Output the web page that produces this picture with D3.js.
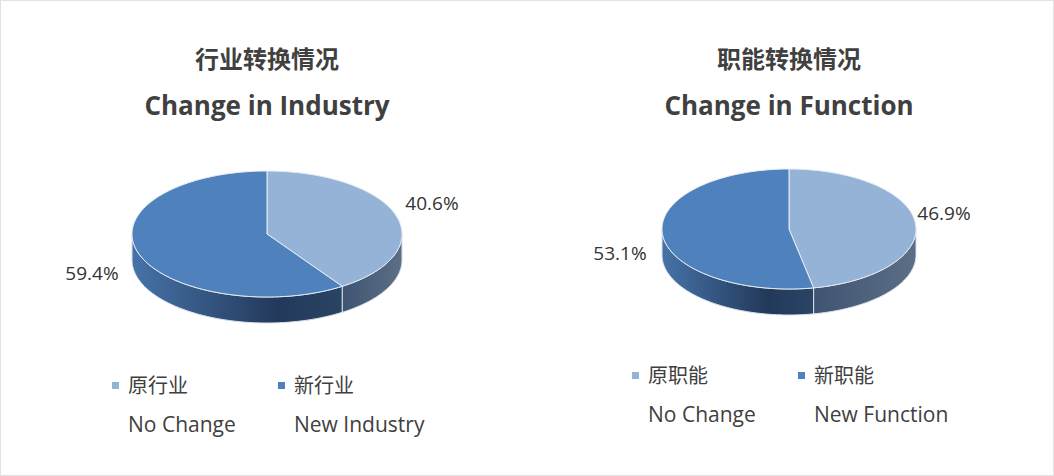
<!DOCTYPE html>
<html><head><meta charset="utf-8">
<script src="https://cdn.jsdelivr.net/npm/d3@7"></script>
<style>body{margin:0;background:#fff}text{font-family:"Open Sans","Noto Sans CJK SC",sans-serif}</style>
</head><body><div class="chart"></div>
<script>
// data
const titlesCn = ['行业转换情况', '职能转换情况']
const titlesEn = ['Change in Industry', 'Change in Function']
const legendCn = [['原行业', '新行业'], ['原职能', '新职能']]
const legendEn = [['No Change', 'New Industry'], ['No Change', 'New Function']]
const values = [[40.6, 59.4], [46.9, 53.1]]

const colors = ['#95b3d7', '#4f81bd']
const width = 1054, height = 476

const svg = d3.select('.chart').append('svg')
  .attr('width', width).attr('height', height)

svg.append('rect').attr('x', 0.5).attr('y', 0.5)
  .attr('width', width - 1).attr('height', height - 1)
  .style('fill', '#fff').style('stroke', '#e2e2e2')

const defs = svg.append('defs')
const g1 = defs.append('linearGradient').attr('id', 'sideDark')
g1.append('stop').attr('offset', '0%').attr('stop-color', '#4673a8')
g1.append('stop').attr('offset', '70%').attr('stop-color', '#22395a')
g1.append('stop').attr('offset', '100%').attr('stop-color', '#2a4466')
const g2 = defs.append('linearGradient').attr('id', 'sideLight')
g2.append('stop').attr('offset', '0%').attr('stop-color', '#3e5472')
g2.append('stop').attr('offset', '100%').attr('stop-color', '#5d6f86')
const sideFill = ['url(#sideLight)', 'url(#sideDark)']

const charts = [
  {cx: 267, cy: 234, rx: 135, ry: 63, depth: 26, legendY: 386, legendX: [116, 282],
   labels: [[432, 210], [92, 280]]},
  {cx: 789, cy: 229, rx: 127, ry: 60, depth: 26, legendY: 376, legendX: [636, 802],
   labels: [[944, 220], [620, 260]]}
]

const pie = d3.pie().sort(null)

charts.forEach((c, i) => {
  const g = svg.append('g')
  const pt = (a, dy = 0) => [c.cx + c.rx * Math.sin(a), c.cy - c.ry * Math.cos(a) + dy]
  const arcs = pie(values[i])

  // titles
  g.append('text').attr('x', c.cx).attr('y', 68).attr('text-anchor', 'middle')
    .style('font-size', '24px').style('font-weight', 'bold').style('fill', '#404040')
    .text(titlesCn[i])
  g.append('text').attr('x', c.cx).attr('y', 115).attr('text-anchor', 'middle')
    .style('font-size', '26px').style('font-weight', 'bold').style('fill', '#404040')
    .text(titlesEn[i])

  // side walls (front half only)
  arcs.forEach((d, j) => {
    const a0 = Math.max(d.startAngle, Math.PI / 2)
    const a1 = Math.min(d.endAngle, Math.PI * 1.5)
    if (a1 <= a0) return
    const steps = 60
    const top = d3.range(steps + 1).map(k => pt(a0 + (a1 - a0) * k / steps))
    const bottom = top.map(p => [p[0], p[1] + c.depth]).reverse()
    g.append('path').attr('d', d3.line()(top.concat(bottom)) + 'Z')
      .style('fill', sideFill[j]).style('stroke', '#d9e1ea').style('stroke-width', 1)
  })

  // top faces
  arcs.forEach((d, j) => {
    const steps = 120
    const pts = d3.range(steps + 1).map(k => pt(d.startAngle + (d.endAngle - d.startAngle) * k / steps))
    g.append('path').attr('d', d3.line()([[c.cx, c.cy]].concat(pts)) + 'Z')
      .style('fill', colors[j]).style('stroke', '#e6edf5').style('stroke-width', 1)
  })

  // labels
  arcs.forEach((d, j) => {
    g.append('text').attr('x', c.labels[j][0]).attr('y', c.labels[j][1])
      .attr('text-anchor', 'middle').style('font-size', '19px').style('fill', '#333')
      .text(d.data.toFixed(1) + '%')
  })

  // legend
  legendCn[i].forEach((t, j) => {
    const x = c.legendX[j]
    g.append('rect').attr('x', x - 4).attr('y', c.legendY - 4).attr('width', 7).attr('height', 7)
      .style('fill', colors[j])
    g.append('text').attr('x', x + 12).attr('y', c.legendY + 7)
      .style('font-size', '20px').style('fill', '#404040').text(t)
    g.append('text').attr('x', x + 12).attr('y', c.legendY + 46)
      .style('font-size', '21px').style('fill', '#404040').text(legendEn[i][j])
  })
})
</script></body></html>
